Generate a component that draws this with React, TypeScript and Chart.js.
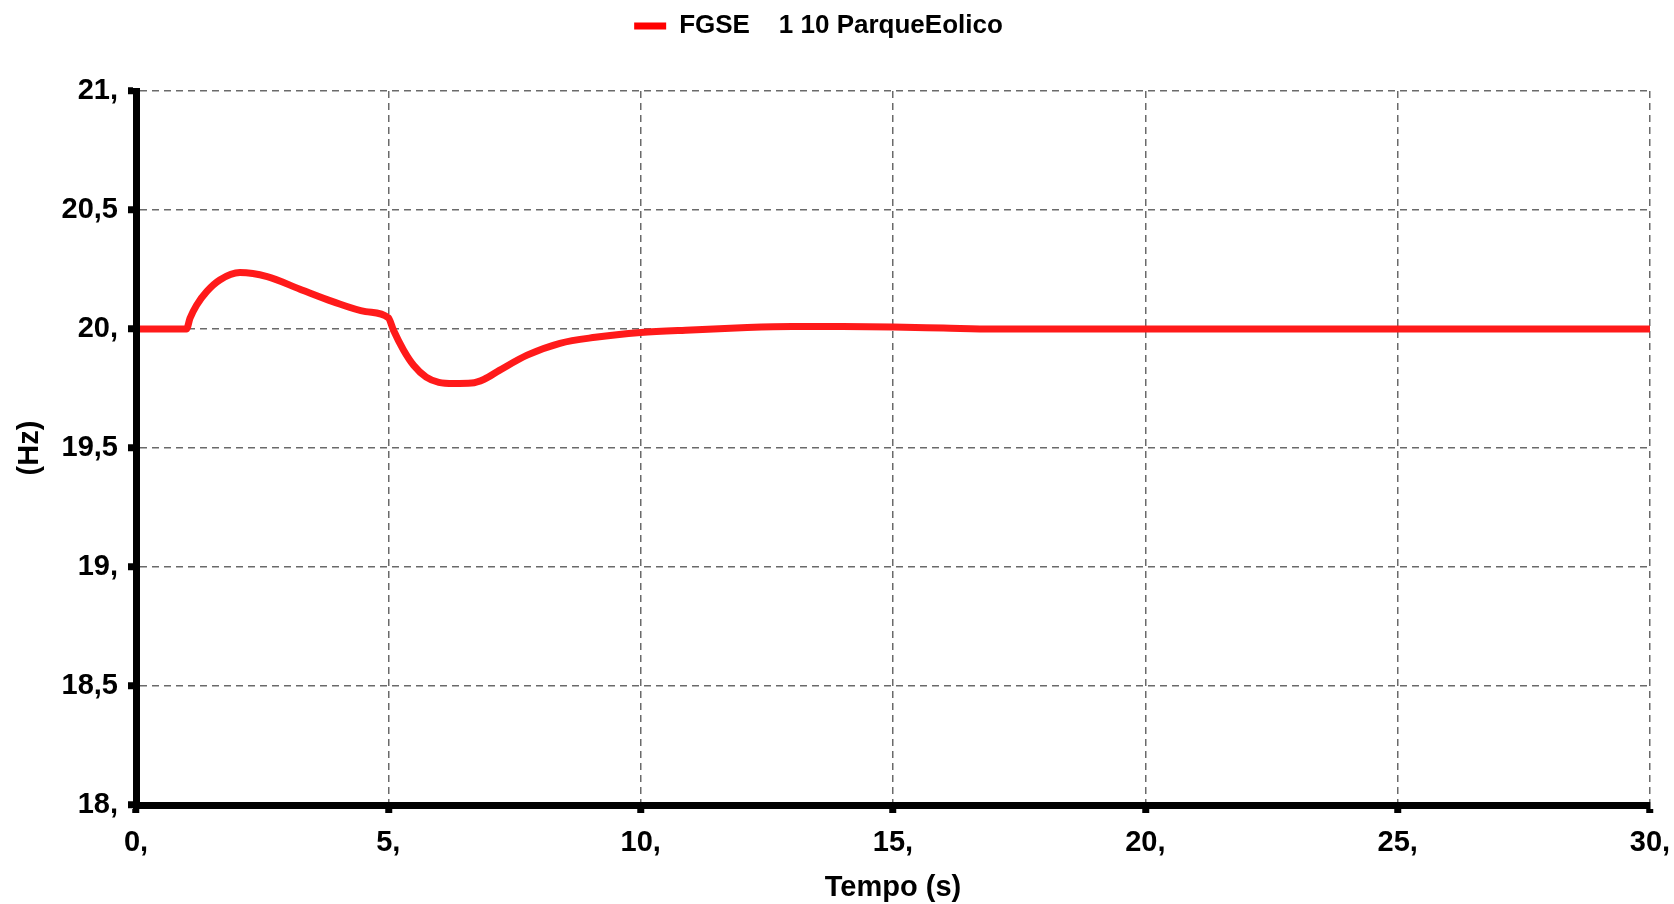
import React, { useEffect, useRef } from 'react';
import { Chart, registerables } from 'chart.js';

Chart.register(...registerables);

const seriesLabel = 'FGSE    1 10 ParqueEolico';
const xAxisTitle = 'Tempo (s)';
const yAxisTitle = '(Hz)';

const timeSeconds = [
  0, 1.0, 1.07, 1.2, 1.4, 1.66, 2.06, 2.6, 3.25, 3.9,
  4.55, 5.0, 5.1, 5.3, 5.5, 5.75, 6.0, 6.3, 6.65, 6.9,
  7.2, 7.75, 8.4, 9.1, 10, 11, 12, 13, 14, 15,
  16, 17, 18, 30,
];
const frequencyHz = [
  20, 20, 20.045, 20.1, 20.157, 20.206, 20.237, 20.22, 20.167, 20.115,
  20.073, 20.047, 19.996, 19.912, 19.848, 19.798, 19.776, 19.771, 19.773, 19.789,
  19.826, 19.89, 19.94, 19.965, 19.985, 19.996, 20.005, 20.01, 20.01, 20.008,
  20.004, 20, 20, 20,
];

const xMin = 0;
const xMax = 30;
const xStep = 5;
const yMin = 18;
const yMax = 21;
const yStep = 0.5;

const LINE_COLOR = '#ff1a1a';
const FONT_FAMILY = '"Liberation Sans", Arial, Helvetica, sans-serif';

const fmt = (v: number) => {
  const r = Math.round(v * 100) / 100;
  if (Number.isInteger(r)) return `${r},`;
  return String(r).replace('.', ',');
};

export default function App() {
  const ref = useRef<HTMLCanvasElement | null>(null);

  useEffect(() => {
    if (!ref.current) return;
    const points = timeSeconds.map((t, i) => ({ x: t, y: frequencyHz[i] }));
    const chart = new Chart(ref.current, {
      type: 'line',
      data: {
        datasets: [
          {
            label: seriesLabel,
            data: points,
            borderColor: LINE_COLOR,
            backgroundColor: LINE_COLOR,
            borderWidth: 7,
            pointRadius: 0,
            cubicInterpolationMode: 'monotone',
            fill: false,
          },
        ],
      },
      options: {
        responsive: false,
        animation: false,
        layout: { padding: { left: -13, right: 24, top: 0, bottom: 0 } },
        plugins: {
          tooltip: { enabled: false },
          legend: {
            display: true,
            position: 'top',
            weight: 3000,
            labels: {
              boxWidth: 32,
              boxHeight: 7,
              padding: 13,
              color: '#000',
              font: { family: FONT_FAMILY, size: 26, weight: 'bold' },
              generateLabels: (c: any) =>
                Chart.defaults.plugins.legend.labels
                  .generateLabels(c)
                  .map((l: any) => ({ ...l, lineWidth: 0, fillStyle: '#ff0000' })),
            },
          },
          title: {
            display: true,
            text: '',
            font: { size: 10, lineHeight: 1 },
            padding: { top: 0, bottom: 32 },
          },
        },
        scales: {
          x: {
            type: 'linear',
            min: xMin,
            max: xMax,
            afterFit: (s: any) => {
              s.height = 99;
              s.paddingLeft = 0;
              s.paddingRight = 0;
            },
            ticks: {
              stepSize: xStep,
              color: '#000',
              padding: 13,
              maxRotation: 0,
              font: { family: FONT_FAMILY, size: 29, weight: 'bold' },
              callback: (v: any) => fmt(Number(v)),
            },
            grid: {
              color: '#6a6a6a',
              lineWidth: 1.5,
              tickColor: '#000',
              tickWidth: 7,
              tickLength: 8,
            },
            border: { display: true, color: '#000', width: 7, dash: [7, 5], z: 1 },
            title: {
              display: true,
              text: xAxisTitle,
              color: '#000',
              font: { family: FONT_FAMILY, size: 29, weight: 'bold' },
              padding: { top: 0, bottom: -1 },
            },
          },
          y: {
            type: 'linear',
            min: yMin,
            max: yMax,
            afterFit: (s: any) => {
              s.width = 149;
            },
            ticks: {
              stepSize: yStep,
              color: '#000',
              padding: 10,
              font: { family: FONT_FAMILY, size: 29, weight: 'bold' },
              callback: (v: any) => fmt(Number(v)),
            },
            grid: {
              color: '#6a6a6a',
              lineWidth: 1.5,
              tickColor: '#000',
              tickWidth: 7,
              tickLength: 8,
            },
            border: { display: true, color: '#000', width: 7, dash: [7, 5], z: 1 },
            title: {
              display: true,
              text: yAxisTitle,
              color: '#000',
              font: { family: FONT_FAMILY, size: 29, weight: 'bold' },
              padding: { top: 26, bottom: 0 },
            },
          },
        },
      },
    } as any);
    return () => chart.destroy();
  }, []);

  return (
    <div style={{ position: 'absolute', left: 0, top: 0, width: 1674, height: 904, background: '#fff' }}>
      <canvas ref={ref} width={1674} height={904} style={{ display: 'block' }} />
    </div>
  );
}
